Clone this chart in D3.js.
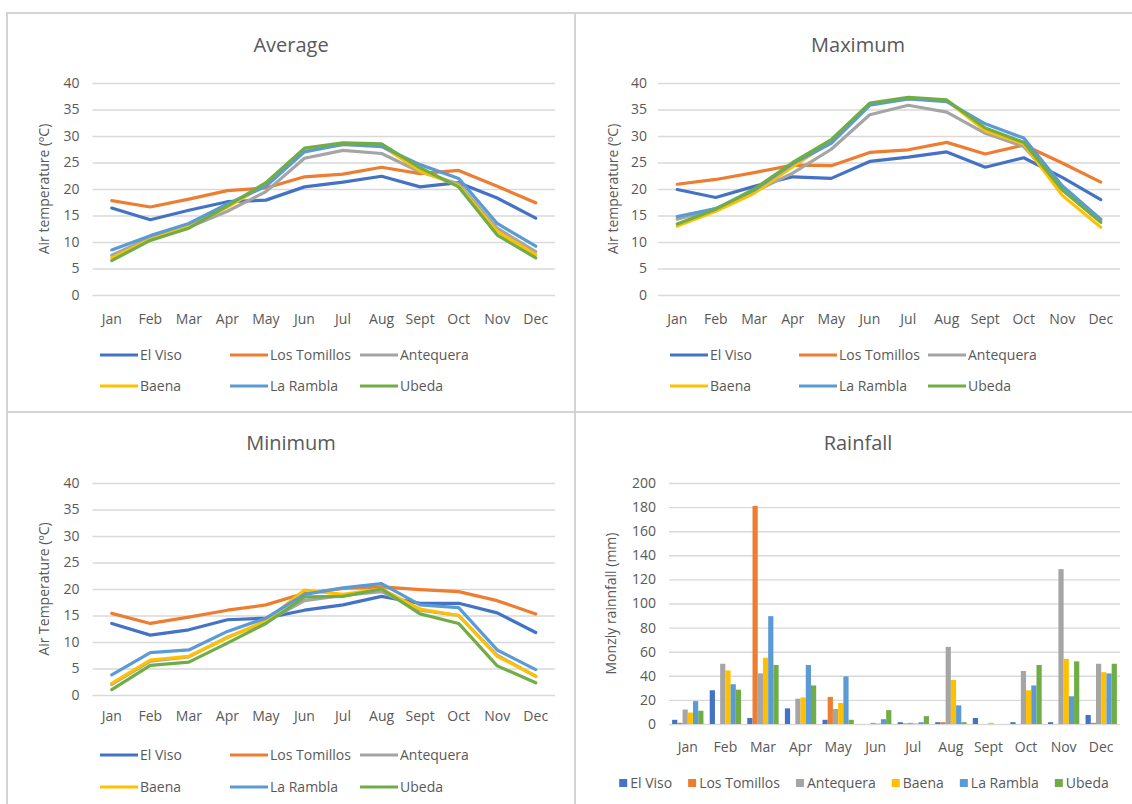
<!DOCTYPE html>
<html>
<head>
<meta charset="utf-8">
<script src="https://cdn.jsdelivr.net/npm/d3@7"></script>
<style>
  html, body { margin: 0; padding: 0; background: #ffffff; }
  svg { display: block; }
  text { font-family: "Open Sans", Lato, sans-serif; fill: #595959; }
</style>
</head>
<body>
<svg id="chart" width="1132" height="804"></svg>
<script>
// ---- data ----
const months = ["Jan", "Feb", "Mar", "Apr", "May", "Jun", "Jul", "Aug", "Sept", "Oct", "Nov", "Dec"];
const stations = ["El Viso", "Los Tomillos", "Antequera", "Baena", "La Rambla", "Ubeda"];
const stationColors = ["#4472C4", "#ED7D31", "#A5A5A5", "#FFC000", "#5B9BD5", "#70AD47"];
const tempTicks = [0, 5, 10, 15, 20, 25, 30, 35, 40];
const rainTicks = [0, 20, 40, 60, 80, 100, 120, 140, 160, 180, 200];

// Average air temperature (ºC), one row per station
const averageTemp = [
  [16.4, 14.2, 16.0, 17.6, 17.9, 20.4, 21.3, 22.4, 20.4, 21.2, 18.3, 14.5],
  [17.8, 16.6, 18.1, 19.7, 20.2, 22.3, 22.8, 24.1, 22.9, 23.5, 20.5, 17.4],
  [7.5, 10.8, 12.8, 15.8, 19.5, 25.8, 27.3, 26.7, 23.2, 21.0, 12.6, 8.2],
  [7.0, 10.5, 12.9, 16.6, 20.8, 27.3, 28.4, 28.2, 23.4, 20.6, 12.0, 7.6],
  [8.5, 11.2, 13.5, 17.2, 20.5, 27.0, 28.4, 28.0, 24.6, 22.0, 13.5, 9.2],
  [6.5, 10.3, 12.6, 16.8, 21.2, 27.7, 28.7, 28.5, 24.0, 20.4, 11.3, 7.0]
];

// Maximum air temperature (ºC)
const maximumTemp = [
  [19.9, 18.4, 20.5, 22.3, 22.0, 25.2, 26.0, 27.0, 24.1, 25.9, 22.2, 18.0],
  [20.9, 21.8, 23.1, 24.5, 24.4, 26.9, 27.4, 28.8, 26.6, 28.3, 24.9, 21.3],
  [14.3, 16.3, 19.5, 23.0, 27.5, 34.0, 35.8, 34.5, 30.5, 28.0, 20.0, 14.0],
  [13.0, 15.8, 19.2, 24.2, 29.0, 36.0, 37.0, 36.7, 31.0, 28.5, 18.8, 12.8],
  [14.8, 16.3, 19.8, 24.8, 28.6, 35.8, 37.0, 36.5, 32.3, 29.6, 20.6, 14.3],
  [13.4, 16.2, 20.0, 25.0, 29.3, 36.2, 37.3, 36.8, 31.5, 28.8, 19.8, 13.7]
];

// Minimum air temperature (ºC)
const minimumTemp = [
  [13.5, 11.3, 12.3, 14.2, 14.5, 16.0, 17.0, 18.6, 17.3, 17.3, 15.5, 11.8],
  [15.4, 13.5, 14.7, 16.0, 17.0, 19.2, 20.1, 20.4, 19.9, 19.5, 17.8, 15.3],
  [2.0, 6.4, 7.2, 10.9, 13.8, 17.8, 18.8, 19.5, 16.0, 15.0, 7.5, 3.5],
  [2.2, 6.6, 7.3, 10.8, 14.0, 19.8, 19.0, 20.0, 16.2, 15.0, 7.3, 3.6],
  [3.8, 8.0, 8.5, 12.0, 14.5, 19.0, 20.2, 21.0, 17.0, 16.5, 8.5, 4.8],
  [1.0, 5.6, 6.2, 9.8, 13.5, 18.5, 18.6, 20.0, 15.3, 13.5, 5.5, 2.3]
];

// Monthly rainfall (mm)
const rainfall = [
  [3.5, 28, 5, 13, 3.5, 0, 1.5, 1.5, 5, 1.5, 1.5, 7.5],
  [1, 0, 181, 0, 22.5, 0, 0.5, 1.5, 0, 0, 0, 1],
  [12, 50, 42, 21, 12.5, 1, 1, 64, 0, 44, 128.5, 50],
  [9.5, 44.5, 55, 22, 17.5, 0.5, 0.5, 36.5, 1, 28, 54, 43],
  [19, 33, 89.5, 49, 39.5, 4, 1.5, 15.5, 0, 32, 23, 42],
  [11, 28.5, 49, 32, 3.5, 11.5, 6.5, 1.5, 0, 49, 52, 50]
];

// ---- layout ----
const svg = d3.select("#chart");
const gridColor = "#d9d9d9";
const borderColor = "#d4d4d4";

// panel frames
const frames = [
  { x: 7, y: 13, w: 568, h: 399 },
  { x: 575, y: 13, w: 560, h: 399 },
  { x: 7, y: 412, w: 568, h: 395 },
  { x: 575, y: 412, w: 560, h: 395 }
];
svg.append("g").selectAll("rect").data(frames).join("rect")
  .attr("x", d => d.x).attr("y", d => d.y)
  .attr("width", d => d.w).attr("height", d => d.h)
  .attr("fill", "none").attr("stroke", borderColor).attr("stroke-width", 2);

function drawAxes(g, x, y, ticks, p) {
  const grid = g.append("g")
    .attr("transform", `translate(${p.x0},0)`)
    .call(d3.axisLeft(y).tickValues(ticks).tickSize(-(p.x1 - p.x0)).tickPadding(p.yPad));
  grid.select(".domain").remove();
  grid.selectAll(".tick line").attr("stroke", gridColor).attr("stroke-width", 1.4);
  grid.selectAll(".tick text").attr("font-size", 14).style("fill", "#595959")
    .style("font-family", "'Open Sans', sans-serif");

  const xa = g.append("g")
    .attr("transform", `translate(0,${p.yBot})`)
    .call(d3.axisBottom(x).tickSize(0).tickPadding(p.xPad));
  xa.select(".domain").remove();
  xa.selectAll(".tick text").attr("font-size", 14).style("fill", "#595959")
    .style("font-family", "'Open Sans', sans-serif");

  g.append("text")
    .attr("x", p.titleX).attr("y", p.titleY).attr("dy", "0.35em")
    .attr("text-anchor", "middle").attr("font-size", 20)
    .text(p.title);

  g.append("text")
    .attr("transform", `translate(${p.yLabelX},${(p.yTop + p.yBot) / 2}) rotate(-90)`)
    .attr("dy", "0.35em")
    .attr("text-anchor", "middle").attr("font-size", 14)
    .text(p.yLabel);
}

function linePanel(p, data) {
  const g = svg.append("g");
  const x = d3.scaleBand().domain(months).range([p.x0, p.x1]);
  const y = d3.scaleLinear().domain([0, 40]).range([p.yBot, p.yTop]);
  drawAxes(g, x, y, tempTicks, p);

  const line = d3.line()
    .x((d, i) => x(months[i]) + x.bandwidth() / 2)
    .y(d => y(d));
  g.append("g").selectAll("path").data(data).join("path")
    .attr("d", d => line(d))
    .attr("fill", "none")
    .attr("stroke", (d, i) => stationColors[i])
    .attr("stroke-width", 3.2)
    .attr("stroke-linejoin", "round")
    .attr("stroke-linecap", "round");

  // legend: 3 columns x 2 rows
  const lg = g.append("g");
  stations.forEach((s, i) => {
    const col = i % 3, row = Math.floor(i / 3);
    const lx = p.legendX + col * p.legendCol;
    const ly = p.legendRows[row];
    lg.append("line")
      .attr("x1", lx).attr("x2", lx + 38).attr("y1", ly).attr("y2", ly)
      .attr("stroke", stationColors[i]).attr("stroke-width", 3.2);
    lg.append("text")
      .attr("x", lx + 40).attr("y", ly).attr("dy", "0.35em")
      .attr("font-size", 14).text(s);
  });
}

function barPanel(p, data) {
  const g = svg.append("g");
  const gap = 1.2 / (6 + 1.2);
  const x = d3.scaleBand().domain(months).range([p.x0, p.x1])
    .paddingInner(gap).paddingOuter(gap / 2);
  const xs = d3.scaleBand().domain(d3.range(stations.length)).range([0, x.bandwidth()]);
  const y = d3.scaleLinear().domain([0, 200]).range([p.yBot, p.yTop]);
  drawAxes(g, x, y, rainTicks, p);

  const series = g.append("g").selectAll("g").data(data).join("g")
    .attr("fill", (d, i) => stationColors[i]);
  series.each(function (vals, si) {
    d3.select(this).selectAll("rect").data(vals).join("rect")
      .attr("x", (d, mi) => x(months[mi]) + xs(si))
      .attr("width", xs.bandwidth())
      .attr("y", d => y(d))
      .attr("height", d => y(0) - y(d));
  });

  // single-row legend, centred
  const lg = g.append("g");
  let cx = 0;
  const spacing = 16;
  stations.forEach((s, i) => {
    const t = lg.append("text").attr("x", cx + 11).attr("y", p.legendY).attr("dy", "0.35em")
      .attr("font-size", 14).text(s);
    const w = t.node().getComputedTextLength();
    lg.append("rect").attr("x", cx).attr("y", p.legendY - 4).attr("width", 8).attr("height", 8)
      .attr("fill", stationColors[i]);
    cx += 11 + w + spacing;
  });
  const total = cx - spacing;
  lg.attr("transform", `translate(${p.legendCenter - total / 2},0)`);
}

linePanel({
  title: "Average", titleX: 291, titleY: 45,
  x0: 92.5, x1: 555, yTop: 83, yBot: 295, yPad: 13, xPad: 19,
  yLabel: "Air temperature (ºC)", yLabelX: 44,
  legendX: 100, legendCol: 130, legendRows: [355, 386]
}, averageTemp);

linePanel({
  title: "Maximum", titleX: 858, titleY: 45,
  x0: 658, x1: 1120, yTop: 83, yBot: 295, yPad: 11, xPad: 19,
  yLabel: "Air temperature (ºC)", yLabelX: 613,
  legendX: 670, legendCol: 129, legendRows: [355, 386]
}, maximumTemp);

linePanel({
  title: "Minimum", titleX: 291, titleY: 443,
  x0: 92.5, x1: 555, yTop: 483, yBot: 695, yPad: 13, xPad: 16,
  yLabel: "Air Temperature (ºC)", yLabelX: 44,
  legendX: 100, legendCol: 130, legendRows: [755, 787]
}, minimumTemp);

barPanel({
  title: "Rainfall", titleX: 858, titleY: 443,
  x0: 669, x1: 1120, yTop: 483, yBot: 724, yPad: 13, xPad: 18,
  yLabel: "Monzly rainnfall (mm)", yLabelX: 611,
  legendY: 783, legendCenter: 864
}, rainfall);
</script>
</body>
</html>
